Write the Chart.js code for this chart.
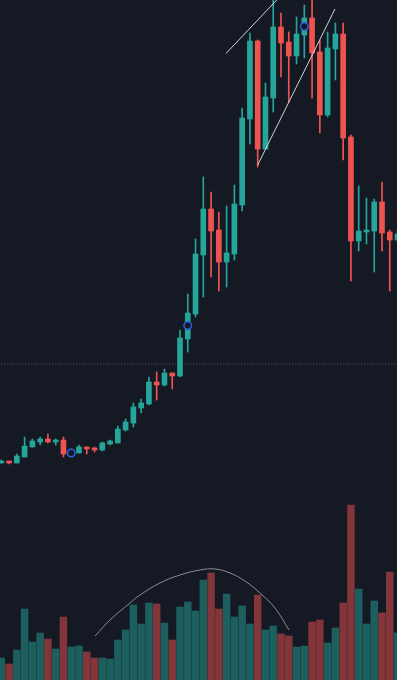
<!DOCTYPE html>
<html>
<head>
<meta charset="utf-8">
<script src="https://cdn.jsdelivr.net/npm/chart.js@4.4.1/dist/chart.umd.min.js"></script>
<style>
  html, body { margin: 0; padding: 0; background: #151924; overflow: hidden; }
  #wrap { width: 397px; height: 680px; position: relative; }
</style>
</head>
<body>
<div id="wrap"><canvas id="c"></canvas></div>
<script>
// ---- data (bar index 0..51) ----
const opens  = [7.4,7.8,7.4,8.6,10.6,11.6,12.2,11.6,12.0,9.2,9.4,10.6,10.4,10.0,11.2,11.4,14.0,15.4,18.4,19.2,23.6,23.0,25.4,24.8,32.2,37.2,49.0,58.2,54.0,47.6,49.2,59.0,76.2,91.8,70.2,80.4,94.6,91.6,88.8,93.0,96.4,89.6,77.0,90.2,93.2,72.6,51.8,53.6,53.8,59.6,53.6,52.0];
const highs  = [8.0,7.8,9.2,12.6,12.2,12.6,13.2,12.2,12.6,10.2,11.0,10.6,10.6,11.6,12.0,14.8,16.2,19.4,20.2,24.6,25.6,26.2,25.4,34.0,41.2,52.2,64.6,61.6,57.6,58.8,63.0,78.4,93.4,92.0,83.4,101,97.4,93.6,96.6,99.0,101,92.0,93.6,95.4,95.4,73.0,62.8,60.4,60.2,63.6,54.0,54.0];
const lows   = [7.4,7.2,7.4,8.6,10.6,11.0,11.4,11.0,8.6,8.8,9.4,9.2,9.6,9.8,11.0,11.4,13.8,14.6,17.4,19.0,20.0,22.8,22.2,24.6,29.6,36.6,40.6,44.6,41.8,42.6,48.0,57.8,71.2,66.6,70.2,77.6,84.6,79.6,87.2,88.4,80.4,73.4,76.6,84.0,68.0,43.8,49.8,51.2,45.6,49.8,41.8,51.6];
const closes = [7.8,7.4,8.8,10.8,11.8,12.2,11.6,12.0,9.2,9.8,10.6,10.2,10.0,11.4,11.8,14.2,15.6,18.6,19.4,23.6,23.0,25.4,24.8,32.4,37.4,49.2,58.2,53.8,47.6,49.4,59.2,76.4,91.8,70.2,80.6,94.6,91.4,88.8,93.2,96.4,89.4,77.0,90.4,93.2,72.4,51.8,53.8,54.0,59.6,53.4,52.0,53.2];
const volumes = [22,16,30,71,38,47,41,31,63,33,34,28,22,22,21,40,50,75,56,77,76,57,40,73,78,69,100,107,71,86,63,74,56,85,50,54,46,44,33,34,58,60,37,52,77,175,91,56,79,67,108,47];

// markers (bar index, price)
const markerIdx   = [9, 24, 39];
const markerPrice = [9.4, 34.9, 94.7];

// drawn trend lines: [index, price] endpoints
const trendA = [[28.92, 89.3], [36.0, 100.9]];
const trendB = [[33.0, 67.0], [42.95, 98.2]];
// arc over volume: [index, volume]
const arcIdx = [12.07,13.99,16.56,17.85,20.42,23.0,25.57,27.5,29.43,31.36,33.29,35.22,37.03];
const arcVol = [44,60,77,85,97,105,110,111,107,99,87,72,50];
// dotted price line
const priceLine = 27.2;

// ---- styles ----
const BG = '#151924';
const UP = '#26a69a', DOWN = '#ef5350';
const UPV = 'rgba(38,166,154,0.5)', DOWNV = 'rgba(239,83,80,0.5)';

const idx = opens.map((_, i) => i);
const isUp = idx.map(i => closes[i] >= opens[i]);

const bodyData = idx.map(i => ({x: i, y: [opens[i], closes[i]]}));
const wickData = idx.map(i => ({x: i, y: [lows[i], highs[i]]}));
const volData  = idx.map(i => ({x: i, y: volumes[i]}));
const candleCol = isUp.map(u => u ? UP : DOWN);
const volCol = isUp.map(u => u ? UPV : DOWNV);

const xMin = -0.167, xMax = 50.93;

new Chart(document.getElementById('c'), {
  type: 'bar',
  data: {
    datasets: [
      { type: 'line', data: [{x: xMin - 1, y: priceLine}, {x: xMax + 1, y: priceLine}],
        yAxisID: 'y', borderColor: '#5d606b', borderWidth: 1, borderDash: [1, 2],
        pointRadius: 0, order: 8 },
      { type: 'bar', data: volData, yAxisID: 'yv', backgroundColor: volCol,
        barThickness: 6.8, grouped: false, order: 10 },
      { type: 'line', data: arcIdx.map((x, i) => ({x, y: arcVol[i]})), yAxisID: 'yv',
        borderColor: '#8a8d96', borderWidth: 1, pointRadius: 0, tension: 0.4,
        order: 9 },
      { type: 'bar', data: wickData, yAxisID: 'y', backgroundColor: candleCol,
        barThickness: 1, grouped: false, order: 5 },
      { type: 'bar', data: bodyData, yAxisID: 'y', backgroundColor: candleCol,
        barThickness: 5, minBarLength: 1, grouped: false, order: 4 },
      { type: 'line', data: markerIdx.map((x, i) => ({x, y: markerPrice[i]})), yAxisID: 'y',
        showLine: false, pointRadius: 3.8, pointBorderWidth: 1.5, pointBorderColor: '#2f5fe0',
        pointBackgroundColor: BG, order: 2 },
      { type: 'line', data: trendA.map(p => ({x: p[0], y: p[1]})), yAxisID: 'y',
        borderColor: '#d1d4dc', borderWidth: 1, pointRadius: 0, order: 1 },
      { type: 'line', data: trendB.map(p => ({x: p[0], y: p[1]})), yAxisID: 'y',
        borderColor: '#d1d4dc', borderWidth: 1, pointRadius: 0, order: 1 }
    ]
  },
  options: {
    responsive: true,
    maintainAspectRatio: false,
    animation: false,
    layout: { padding: 0, autoPadding: false },
    plugins: { legend: { display: false }, tooltip: { enabled: false } },
    scales: {
      x: { type: 'linear', min: xMin, max: xMax, display: false, offset: false },
      y: { type: 'linear', min: -36, max: 100, display: false },
      yv: { type: 'linear', min: 0, max: 680, display: false }
    }
  }
});
</script>
</body>
</html>
